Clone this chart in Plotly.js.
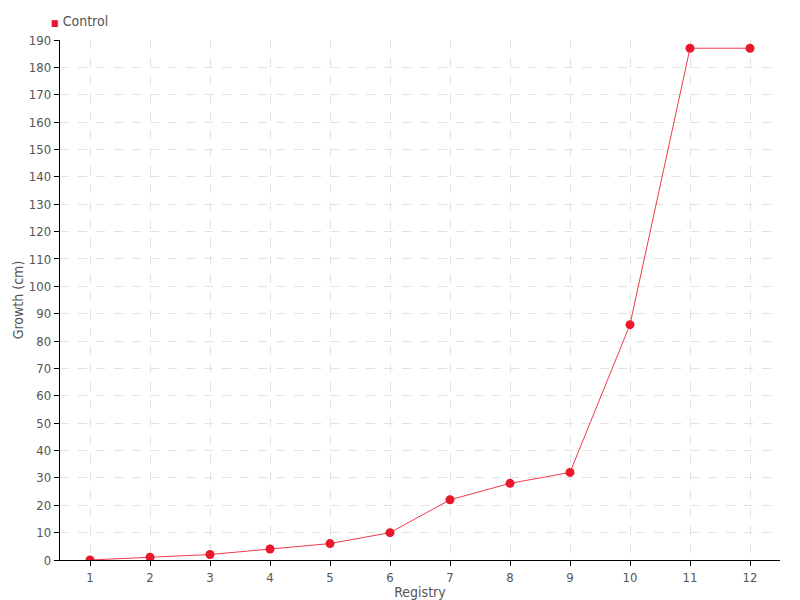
<!DOCTYPE html>
<html>
<head>
<meta charset="utf-8">
<script src="https://cdn.plot.ly/plotly-3.0.1.min.js"></script>
<style>html,body{margin:0;padding:0;background:#fff;}#chart{width:800px;height:600px;}</style>
</head>
<body>
<div id="chart"></div>
<script>
const categories = [1, 2, 3, 4, 5, 6, 7, 8, 9, 10, 11, 12];
const controlValues = [0, 1, 2, 4, 6, 10, 22, 28, 32, 86, 187, 187];
const seriesName = "Control";
const yTicks = [0,10,20,30,40,50,60,70,80,90,100,110,120,130,140,150,160,170,180,190];

const fontFam = '"DejaVu Sans Condensed", "Liberation Sans Narrow", "Roboto", sans-serif';
const red = '#e8192c';

const traces = [
  {
    x: categories, y: controlValues, type: 'scatter', mode: 'lines+markers',
    name: seriesName, showlegend: false,
    line: {color: '#f03a48', width: 1},
    marker: {color: red, size: 9}
  }
];

const layout = {
  width: 800, height: 600,
  margin: {l: 60, r: 20, t: 40, b: 40},
  paper_bgcolor: '#fff', plot_bgcolor: '#fff',
  font: {family: fontFam, color: '#555', size: 13},
  showlegend: false,
  annotations: [{
    xref: 'paper', yref: 'paper', x: -0.0153, y: 1.0365, xanchor: 'left', yanchor: 'middle',
    showarrow: false,
    text: '<span style="color:' + red + ';font-size:9px">■</span> ' + seriesName,
    font: {size: 14, color: '#555', family: fontFam}
  }],
  xaxis: {
    range: [0.5, 12.5], tickmode: 'array', tickvals: categories, ticktext: categories.map(String),
    showline: true, linecolor: '#000', linewidth: 1.3, ticks: 'outside', ticklen: 5, tickcolor: '#000',
    showgrid: true, gridcolor: '#e2e2e2', griddash: 'dash', zeroline: false,
    title: {text: 'Registry', standoff: 0, font: {size: 14, color: '#555'}},
    tickfont: {size: 13, color: '#555'}
  },
  yaxis: {
    range: [0, 190], tickmode: 'array', tickvals: yTicks,
    showline: true, linecolor: '#000', linewidth: 1.3, ticks: 'outside', ticklen: 5, tickcolor: '#000',
    showgrid: true, gridcolor: '#e2e2e2', griddash: 'dash', zeroline: false,
    title: {text: 'Growth (cm)', standoff: 2, font: {size: 14, color: '#555'}},
    tickfont: {size: 13, color: '#555'}
  }
};

Plotly.newPlot('chart', traces, layout, {displayModeBar: false, staticPlot: true});
</script>
</body>
</html>
